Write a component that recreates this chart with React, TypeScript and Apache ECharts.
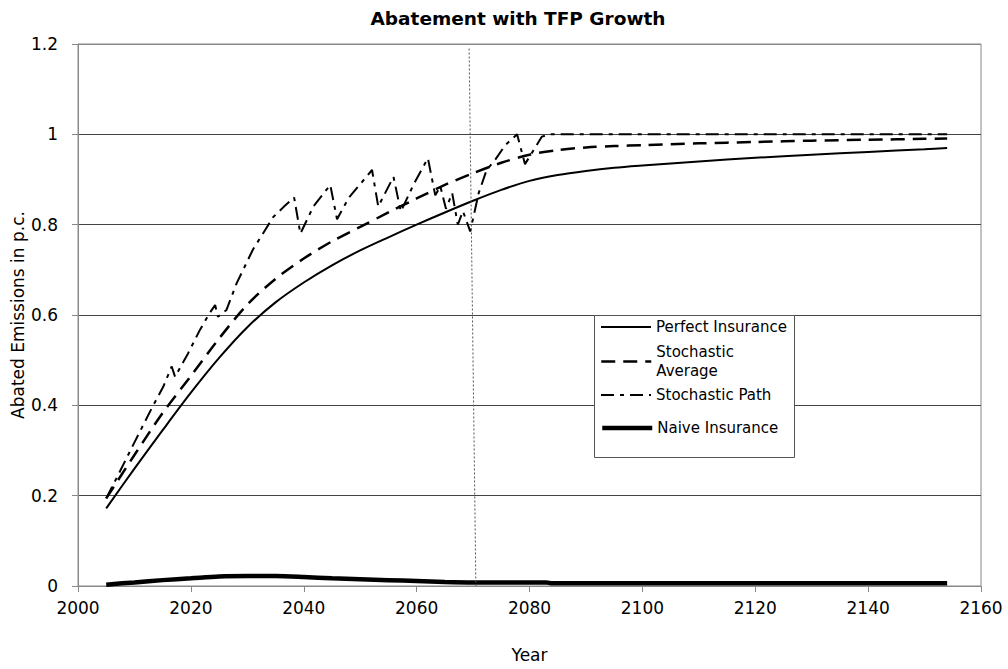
import React, { useEffect, useRef } from "react";
import * as echarts from "echarts";

const titleText = "Abatement with TFP Growth";
const xName = "Year";
const yName = "Abated Emissions in p.c.";

const perfectYears = [2005, 2010, 2015, 2020, 2025, 2030, 2035, 2040, 2045, 2050, 2055, 2060, 2065, 2070, 2075, 2080, 2085, 2090, 2095, 2100, 2110, 2120, 2130, 2140, 2150, 2154];
const perfectValues = [0.172, 0.26, 0.345, 0.428, 0.505, 0.573, 0.628, 0.672, 0.71, 0.743, 0.772, 0.8, 0.827, 0.853, 0.877, 0.897, 0.91, 0.919, 0.926, 0.931, 0.94, 0.948, 0.955, 0.961, 0.967, 0.97];

const averageYears = [2005, 2010, 2015, 2020, 2025, 2030, 2035, 2040, 2045, 2050, 2055, 2060, 2065, 2070, 2075, 2080, 2085, 2090, 2095, 2100, 2110, 2120, 2130, 2140, 2150, 2154];
const averageValues = [0.194, 0.29, 0.383, 0.465, 0.548, 0.623, 0.68, 0.725, 0.763, 0.795, 0.827, 0.858, 0.888, 0.914, 0.937, 0.955, 0.965, 0.971, 0.974, 0.976, 0.98, 0.983, 0.986, 0.988, 0.99, 0.991];

const pathYears = [2005, 2007, 2010, 2013, 2015.1, 2016.6, 2017.2, 2019.5, 2021.6, 2023.3, 2024.3, 2024.8, 2026.3, 2028.1, 2031, 2033, 2034.6, 2036.5, 2038.3, 2039.4, 2041.7, 2044.7, 2045.9, 2048, 2052.1, 2053.2, 2055.9, 2057.2, 2059.5, 2062, 2063.3, 2064.2, 2065.2, 2066.3, 2067.3, 2068.2, 2069.5, 2071, 2072.4, 2074, 2075.7, 2077.8, 2079.2, 2082.2, 2083.5, 2100, 2154];
const pathValues = [0.194, 0.243, 0.318, 0.392, 0.441, 0.486, 0.463, 0.515, 0.567, 0.604, 0.622, 0.596, 0.611, 0.67, 0.745, 0.785, 0.817, 0.84, 0.86, 0.78, 0.84, 0.888, 0.812, 0.86, 0.921, 0.84, 0.906, 0.829, 0.89, 0.947, 0.865, 0.885, 0.835, 0.87, 0.8, 0.83, 0.785, 0.87, 0.921, 0.945, 0.976, 1.0, 0.934, 0.995, 1.0, 1.0, 1.0];

const naiveYears = [2005, 2010, 2015, 2020, 2025, 2030, 2035, 2040, 2045, 2050, 2055, 2060, 2065, 2070, 2075, 2080, 2083, 2084, 2100, 2154];
const naiveValues = [0.003, 0.008, 0.013, 0.017, 0.021, 0.022, 0.022, 0.02, 0.017, 0.015, 0.013, 0.011, 0.009, 0.008, 0.008, 0.008, 0.008, 0.006, 0.006, 0.006];

const yTicks = [0, 0.2, 0.4, 0.6, 0.8, 1, 1.2];
const xTicks = [2000, 2020, 2040, 2060, 2080, 2100, 2120, 2140, 2160];

const dividerTop = [2069.3, 1.19];
const dividerBottom = [2070.5, 0];

const zip = (xs: number[], ys: number[]) => xs.map((x, i) => [x, ys[i]]);

const FONT = "'DejaVu Sans', sans-serif";

export default function App() {
  const ref = useRef<HTMLDivElement>(null);
  useEffect(() => {
    if (!ref.current) return;
    const chart = echarts.init(ref.current, undefined, { renderer: "svg" });
    const legendText = { fontFamily: FONT, fontSize: 15, color: "#000", lineHeight: 16 };
    const legendBase = {
      orient: "vertical",
      left: 600,
      padding: 0,
      itemWidth: 50,
      itemHeight: 14,
      selectedMode: false,
      z: 20,
      itemStyle: { opacity: 0 },
      textStyle: legendText,
    };
    chart.setOption({
      animation: false,
      backgroundColor: "#fff",
      title: {
        text: titleText,
        left: 513,
        textAlign: "center",
        top: 4,
        textStyle: { fontFamily: FONT, fontSize: 18.5, fontWeight: "bold", color: "#000" },
      },
      grid: {
        left: 78,
        right: 27,
        top: 44,
        bottom: 83,
        containLabel: false,
        outerBoundsMode: "none",
        show: true,
        borderColor: "#888",
        borderWidth: 1,
        backgroundColor: "transparent",
      },
      xAxis: {
        type: "value",
        min: xTicks[0],
        max: xTicks[xTicks.length - 1],
        interval: 20,
        name: xName,
        nameLocation: "middle",
        nameGap: 60,
        nameMoveOverlap: false,
        nameTextStyle: { fontFamily: FONT, fontSize: 17, color: "#000" },
        axisLine: { show: true, lineStyle: { color: "#888", width: 1 } },
        axisTick: { show: true, length: 6, lineStyle: { color: "#888" } },
        axisLabel: {
          margin: 13,
          fontFamily: FONT,
          fontSize: 17,
          color: "#000",
          formatter: (v: number) => String(v),
        },
        splitLine: { show: false },
      },
      yAxis: {
        type: "value",
        min: yTicks[0],
        max: yTicks[yTicks.length - 1],
        interval: 0.2,
        name: yName,
        nameLocation: "middle",
        nameGap: 52,
        nameMoveOverlap: false,
        nameTextStyle: { fontFamily: FONT, fontSize: 17, color: "#000" },
        axisLine: { show: true, lineStyle: { color: "#888", width: 1 } },
        axisTick: { show: true, length: 6, lineStyle: { color: "#888" } },
        axisLabel: { margin: 20, fontFamily: FONT, fontSize: 17, color: "#000" },
        splitLine: {
          show: true,
          lineStyle: { color: ["#888", "#444", "#444", "#444", "#444", "#444", "#888"], width: 1 },
        },
      },
      legend: [
        { ...legendBase, top: 319, data: ["Perfect Insurance"], lineStyle: { width: 2 } },
        {
          ...legendBase,
          top: 333,
          data: ["Stochastic Average"],
          lineStyle: { width: 2.5 },
          formatter: () => "Stochastic\nAverage",
          textStyle: { fontFamily: FONT, fontSize: 15, color: "#000", lineHeight: 19, padding: [19, 0, 0, 0] },
        },
        { ...legendBase, top: 387, data: ["Stochastic Path"], lineStyle: { width: 2 } },
        { ...legendBase, top: 420, data: ["Naive Insurance"], lineStyle: { width: 4.5 } },
      ],
      graphic: [
        {
          type: "rect",
          z: 15,
          shape: { x: 594.5, y: 315.5, width: 200, height: 142 },
          style: { fill: "#fff", stroke: "#555", lineWidth: 1 },
        },
      ],
      series: [
        {
          name: "Perfect Insurance",
          type: "line",
          data: zip(perfectYears, perfectValues),
          showSymbol: false,
          symbol: "none",
          smooth: 0.3,
          lineStyle: { color: "#000", width: 2, type: "solid" },
          itemStyle: { color: "#000" },
          z: 3,
          markLine: {
            silent: true,
            symbol: "none",
            label: { show: false },
            lineStyle: { color: "#555", width: 1, type: [2, 2] },
            data: [[{ coord: dividerTop }, { coord: dividerBottom }]],
          },
        },
        {
          name: "Stochastic Average",
          type: "line",
          data: zip(averageYears, averageValues),
          showSymbol: false,
          symbol: "none",
          smooth: 0.3,
          lineStyle: { color: "#000", width: 2.5, type: [14, 8] },
          itemStyle: { color: "#000" },
          z: 3,
        },
        {
          name: "Stochastic Path",
          type: "line",
          data: zip(pathYears, pathValues),
          showSymbol: false,
          symbol: "none",
          lineStyle: { color: "#000", width: 2, type: [13, 6, 4, 6] },
          itemStyle: { color: "#000" },
          z: 3,
        },
        {
          name: "Naive Insurance",
          type: "line",
          data: zip(naiveYears, naiveValues),
          showSymbol: false,
          symbol: "none",
          smooth: 0.3,
          lineStyle: { color: "#000", width: 4.5, type: "solid" },
          itemStyle: { color: "#000" },
          z: 3,
        },
      ],
    });
    return () => chart.dispose();
  }, []);
  return (
    <div
      ref={ref}
      style={{ position: "fixed", left: 0, top: 0, width: 1008, height: 669, background: "#fff" }}
    />
  );
}
